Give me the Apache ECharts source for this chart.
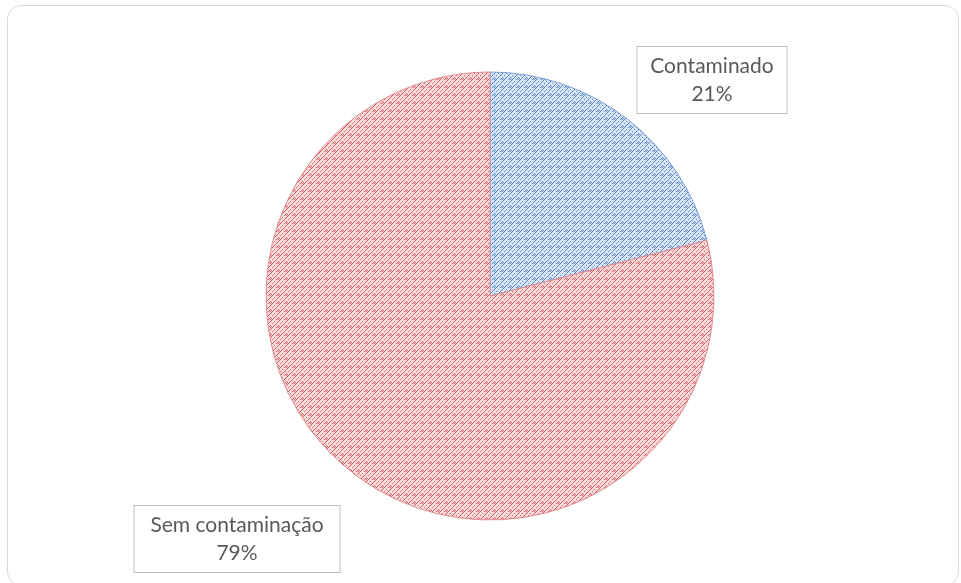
<!DOCTYPE html>
<html>
<head>
<meta charset="utf-8">
<script src="https://cdn.jsdelivr.net/npm/echarts@6/dist/echarts.min.js"></script>
<style>
  html, body { margin: 0; padding: 0; background: #ffffff; overflow: hidden; }
  #frame {
    position: absolute; left: 7px; top: 5px; width: 952px; height: 581px;
    border: 1.5px solid #d9d9d9; border-radius: 14px; box-sizing: border-box;
  }
  #chart { position: absolute; left: 0; top: 0; width: 961px; height: 583px; }
</style>
</head>
<body>
<div id="frame"></div>
<div id="chart"></div>
<script>
// Share of samples by contamination status
const categories = ['Contaminado', 'Sem contaminação'];
const shares = [21, 79];
const labelSuffix = '%';

// Small dotted tile used as a hatched fill for each slice
function dottedTile(bg, dot) {
  const n = 8;
  const c = document.createElement('canvas');
  c.width = n; c.height = n;
  const g = c.getContext('2d');
  g.fillStyle = bg; g.fillRect(0, 0, n, n);
  g.fillStyle = dot;
  const pts = [];
  // main upward diagonal, every pixel
  for (let x = 0; x < n; x++) pts.push([x, n - 1 - x]);
  // secondary dotted diagonal
  for (let x = 0; x < n; x += 2) pts.push([x, (n + 3 - x) % n]);
  // small crosses between the diagonals
  pts.push([5, 6], [7, 6], [6, 7]);
  pts.forEach(p => g.fillRect(p[0], p[1], 1, 1));
  return c;
}

const fills = [
  { bg: '#d6e4f5', dot: '#5b87c6', edge: '#7fa3d6' },
  { bg: '#f8dcdc', dot: '#d65a5e', edge: '#e08a8c' }
];

const chart = echarts.init(document.getElementById('chart'), null, { renderer: 'canvas' });

const labelSpots = [
  { x: 712, y: 80 },
  { x: 237, y: 539 }
];

chart.setOption({
  animation: false,
  series: [{
    type: 'pie',
    center: [490, 296],
    radius: 224,
    startAngle: 90,
    clockwise: true,
    label: {
      show: true,
      formatter: p => p.name + '\n' + p.value + labelSuffix,
      fontFamily: 'Lato, "Open Sans", sans-serif',
      fontSize: 21,
      color: '#595959',
      lineHeight: 28,
      align: 'center',
      backgroundColor: '#ffffff',
      borderColor: '#bfbfbf',
      borderWidth: 1,
      padding: [4, 6, 6, 6]
    },
    labelLine: { show: false },
    labelLayout: function (params) {
      const s = labelSpots[params.dataIndex];
      return { x: s.x, y: s.y, align: 'center', verticalAlign: 'middle' };
    },
    data: categories.map((name, i) => ({
      name: name,
      value: shares[i],
      itemStyle: {
        color: { image: dottedTile(fills[i].bg, fills[i].dot), repeat: 'repeat' },
        borderColor: fills[i].edge,
        borderWidth: 1
      },
      label: i === 0
        ? { width: 137 }
        : { width: 193 }
    }))
  }]
});
</script>
</body>
</html>
